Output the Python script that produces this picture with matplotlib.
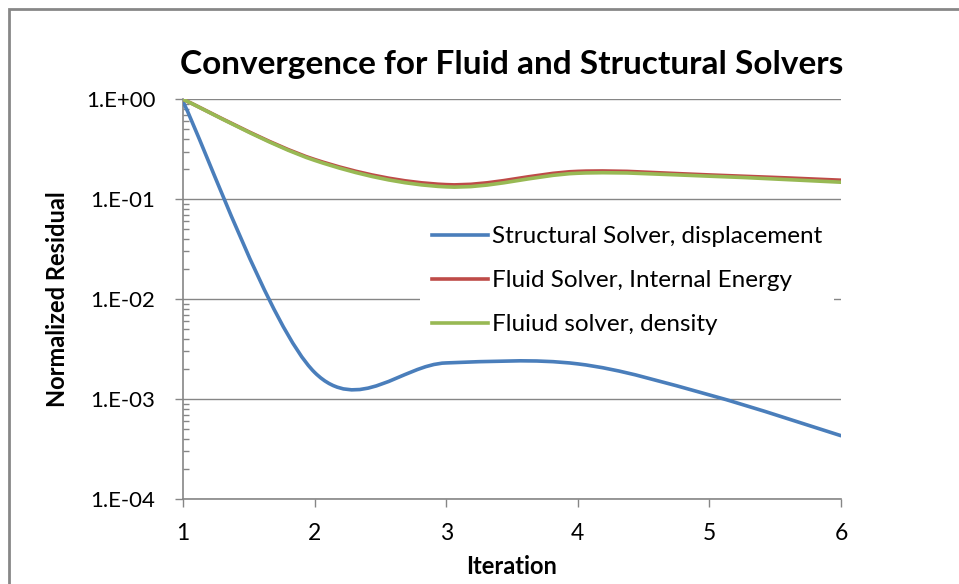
import matplotlib as mpl
mpl.use("Agg")
import matplotlib.pyplot as plt
import numpy as np
from matplotlib.path import Path
from matplotlib.patches import PathPatch, Rectangle
from matplotlib.lines import Line2D
from matplotlib.ticker import LogLocator, FixedLocator, NullFormatter

# data
iteration = [1, 2, 3, 4, 5, 6]
structural_disp = [0.95, 1.85e-3, 2.3e-3, 2.25e-3, 1.1e-3, 4.3e-4]
fluid_energy = [1.0, 0.25, 0.14, 0.19, 0.175, 0.155]
fluid_density = [1.0, 0.245, 0.133, 0.182, 0.17, 0.148]

labels = ["Structural Solver, displacement",
          "Fluid Solver, Internal Energy",
          "Fluiud solver, density"]
colors = ["#4A7EBB", "#BE4B48", "#98B954"]
ytick_vals = [1e-4, 1e-3, 1e-2, 1e-1, 1e0]
ytick_labels = ["1.E-04", "1.E-03", "1.E-02", "1.E-01", "1.E+00"]

plt.rcParams['font.family'] = ['Lato', 'DejaVu Sans']


def SmoothPath(xs, ys):
    # Excel-like smoothed line: cubic bezier through the points (log space for y)
    pts = np.column_stack([np.asarray(xs, float), np.log10(ys)])
    n = len(pts)
    verts = [pts[0]]
    codes = [Path.MOVETO]
    for i in range(n - 1):
        p0 = pts[max(i - 1, 0)]
        p1 = pts[i]
        p2 = pts[i + 1]
        p3 = pts[min(i + 2, n - 1)]
        c1 = p1 + (p2 - p0) / 6.0
        c2 = p2 - (p3 - p1) / 6.0
        verts += [c1, c2, p2]
        codes += [Path.CURVE4] * 3
    verts = np.array(verts)
    verts[:, 1] = 10 ** verts[:, 1]
    return Path(verts, codes)


fig = plt.figure(figsize=(9.59, 5.84), dpi=100)
ax = fig.add_axes([183/959, (584-499)/584, (841-183)/959, (499-99.3)/584])

ax.set_yscale('log')
ax.set_xlim(1, 6)
ax.set_ylim(1e-4, 1)

series = [structural_disp, fluid_energy, fluid_density]
handles = []
for vals, col, lab in zip(series, colors, labels):
    ax.add_patch(PathPatch(SmoothPath(iteration, vals), fill=False,
                           edgecolor=col, lw=2.6, capstyle='round', zorder=3))
    handles.append(Line2D([], [], color=col, lw=2.6, label=lab))

grey = "#868686"
ax.yaxis.set_major_locator(FixedLocator(ytick_vals))
ax.set_yticklabels(ytick_labels)
ax.yaxis.set_minor_locator(LogLocator(base=10, subs=np.arange(2, 10)))
ax.yaxis.set_minor_formatter(NullFormatter())
ax.set_xticks(iteration)

ax.grid(axis='y', which='major', color=grey, lw=1.0)
ax.set_axisbelow(True)
for s in ['top', 'right']:
    ax.spines[s].set_visible(False)
for s in ['left', 'bottom']:
    ax.spines[s].set_color(grey)
    ax.spines[s].set_linewidth(1.2)

ax.tick_params(axis='y', which='major', direction='out', length=6, width=1,
               color=grey, pad=14, labelsize=16)
ax.tick_params(axis='y', which='minor', direction='in', length=4, width=1,
               color=grey)
ax.tick_params(axis='x', which='major', direction='out', length=6, width=1,
               color=grey, pad=11, labelsize=16.5)

ax.set_title("Convergence for Fluid and Structural Solvers",
             fontsize=24, fontweight='bold', pad=18)
ax.set_xlabel("Iteration", fontsize=17, fontweight='bold', labelpad=8)
ax.set_ylabel("Normalized Residual", fontsize=17, fontweight='bold', labelpad=12)

leg = ax.legend(handles=handles, loc='upper left',
                bbox_to_anchor=(420/959, 1 - 214/584),
                bbox_transform=fig.transFigure, fontsize=17.5,
                frameon=True, fancybox=False, edgecolor='none',
                facecolor='white', framealpha=1.0, handlelength=2.3,
                handletextpad=0.15, labelspacing=0.95, borderpad=0.5,
                borderaxespad=0)
leg.set_zorder(2)

# chart frame (top and left edges visible)
fig.patches.append(Rectangle((8.7/959, -0.1), 1.2, 1 - 9.3/584 + 0.1,
                             transform=fig.transFigure, fill=False,
                             edgecolor="#878787", lw=2.0))

fig.savefig("out.png", dpi=100)
